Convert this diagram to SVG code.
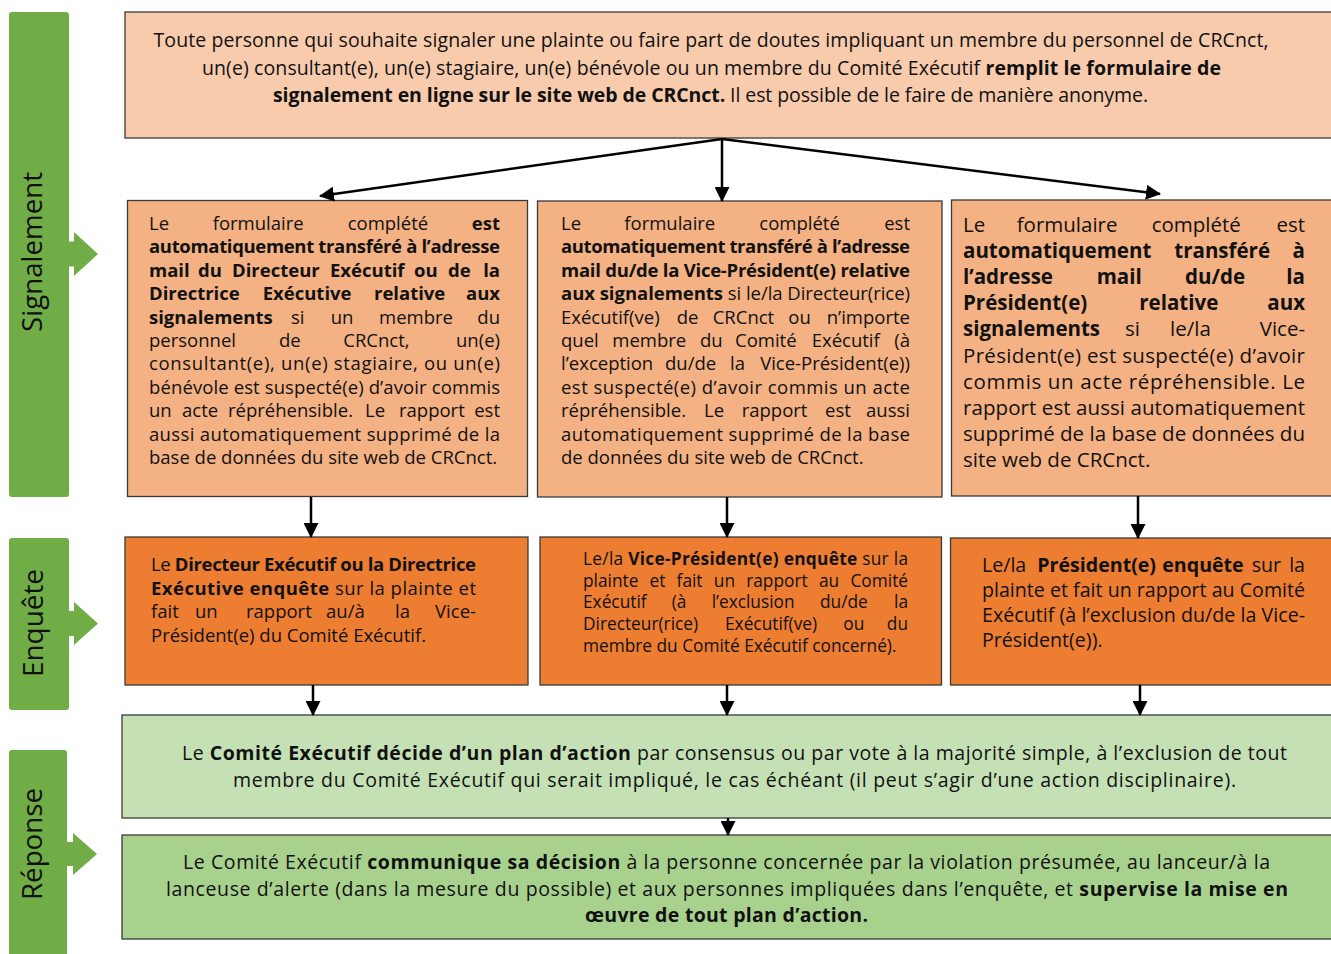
<svg xmlns="http://www.w3.org/2000/svg" width="1331" height="954" viewBox="0 0 1331 954">
<defs>
<style>
.t{font-family:"Open Sans","Liberation Sans",sans-serif;fill:#111;}
.b{font-weight:700;}
.f1{font-size:18.5px;}
.f3{font-size:20.5px;}
.f5{font-size:17.3px;}
.f6{font-size:19.6px;}
.fc{font-size:19.5px;}
.lab{font-family:"Open Sans","Liberation Sans",sans-serif;font-size:27.5px;fill:#111;}
.e{text-anchor:end;}
.m{text-anchor:middle;}
.box{stroke:#3a3a3a;stroke-width:1.3;}
.side{fill:#70AD47;}
.conn{stroke:#000;stroke-width:2.5;fill:none;marker-end:url(#ah);}
</style>
<marker id="ah" markerUnits="userSpaceOnUse" markerWidth="15" markerHeight="15" refX="14" refY="7.5" orient="auto" viewBox="0 0 15 15">
<path d="M0,0 L15,7.5 L0,15 z" fill="#000"/>
</marker>
</defs>
<rect width="1331" height="954" fill="#fff"/>

<g id="label-signalement">
<rect class="side" x="9" y="12" width="60" height="485" rx="3"/>
<polygon class="side" points="68,241.5 74,241.5 74,232 98,254 74,276 74,266.5 68,266.5"/>
<text class="lab m" transform="translate(42,252) rotate(-90)" textLength="160" lengthAdjust="spacingAndGlyphs">Signalement</text>
</g>
<g id="label-enquete">
<rect class="side" x="9" y="538" width="60" height="172" rx="3"/>
<polygon class="side" points="68,611 74,611 74,602 98,623.5 74,645 74,636 68,636"/>
<text class="lab m" transform="translate(43,623) rotate(-90)" textLength="108" lengthAdjust="spacingAndGlyphs">Enquête</text>
</g>
<g id="label-reponse">
<rect class="side" x="9" y="750" width="58" height="220" rx="3"/>
<polygon class="side" points="66,842 73,842 73,833 97,854 73,875 73,866 66,866"/>
<text class="lab m" transform="translate(42,844) rotate(-90)" textLength="112" lengthAdjust="spacingAndGlyphs">Réponse</text>
</g>

<g id="node-top">
<rect class="box" x="125" y="12" width="1215" height="126" fill="#F8CBAD"/>
<text class="t fc m" x="711" y="47" textLength="1115" lengthAdjust="spacing">Toute personne qui souhaite signaler une plainte ou faire part de doutes impliquant un membre du personnel de CRCnct,</text>
<text class="t fc m" x="711.5" y="74.5" textLength="1019" lengthAdjust="spacing">un(e) consultant(e), un(e) stagiaire, un(e) bénévole ou un membre du Comité Exécutif <tspan class="b">remplit le formulaire de</tspan></text>
<text class="t fc m" x="710.5" y="102" textLength="875" lengthAdjust="spacing"><tspan class="b">signalement en ligne sur le site web de CRCnct.</tspan> Il est possible de le faire de manière anonyme.</text>
</g>

<g id="node-signal-dg">
<rect class="box" x="127.5" y="200.5" width="400" height="296" fill="#F4B183"/>
<text class="t f1" y="230"><tspan x="149">Le</tspan><tspan x="212.7">formulaire</tspan><tspan x="347.7">complété</tspan></text>
<text class="t f1 b e" x="500" y="230">est</text>
<text class="t f1 b" x="149" y="253.4" textLength="351" lengthAdjust="spacing">automatiquement transféré à l’adresse</text>
<text class="t f1 b" y="276.8"><tspan x="149">mail</tspan><tspan x="198">du</tspan><tspan x="232">Directeur</tspan><tspan x="330">Exécutif</tspan><tspan x="414">ou</tspan><tspan x="448">de</tspan></text>
<text class="t f1 b e" x="500" y="276.8">la</text>
<text class="t f1 b" y="300.2"><tspan x="149">Directrice</tspan><tspan x="262.7">Exécutive</tspan><tspan x="374">relative</tspan></text>
<text class="t f1 b e" x="500" y="300.2">aux</text>
<text class="t f1" y="323.6"><tspan class="b" x="149">signalements</tspan><tspan x="291">si</tspan><tspan x="330.7">un</tspan><tspan x="379">membre</tspan></text>
<text class="t f1 e" x="500" y="323.6">du</text>
<text class="t f1" y="347"><tspan x="149">personnel</tspan><tspan x="279">de</tspan><tspan x="343.3">CRCnct,</tspan></text>
<text class="t f1 e" x="500" y="347">un(e)</text>
<text class="t f1" x="149" y="370.4" textLength="351" lengthAdjust="spacing">consultant(e), un(e) stagiaire, ou un(e)</text>
<text class="t f1" x="149" y="393.8" textLength="351" lengthAdjust="spacing">bénévole est suspecté(e) d’avoir commis</text>
<text class="t f1" y="417.2"><tspan x="149">un</tspan><tspan x="182">acte</tspan><tspan x="228">répréhensible.</tspan><tspan x="365">Le</tspan><tspan x="399">rapport</tspan></text>
<text class="t f1 e" x="500" y="417.2">est</text>
<text class="t f1" x="149" y="440.6" textLength="351" lengthAdjust="spacing">aussi automatiquement supprimé de la</text>
<text class="t f1" x="149" y="464">base de données du site web de CRCnct.</text>
</g>

<g id="node-signal-vp">
<rect class="box" x="537.5" y="201" width="404.5" height="296" fill="#F4B183"/>
<text class="t f1" y="230"><tspan x="561">Le</tspan><tspan x="624.3">formulaire</tspan><tspan x="759.3">complété</tspan></text>
<text class="t f1 e" x="910" y="230">est</text>
<text class="t f1 b" x="561" y="253.4" textLength="349" lengthAdjust="spacing">automatiquement transféré à l’adresse</text>
<text class="t f1 b" x="561" y="276.8" textLength="349" lengthAdjust="spacing">mail du/de la Vice-Président(e) relative</text>
<text class="t f1" x="561" y="300.2" textLength="349" lengthAdjust="spacing"><tspan class="b">aux signalements</tspan> si le/la Directeur(rice)</text>
<text class="t f1" y="323.6"><tspan x="561">Exécutif(ve)</tspan><tspan x="676.7">de</tspan><tspan x="712.7">CRCnct</tspan><tspan x="788.3">ou</tspan></text>
<text class="t f1 e" x="910" y="323.6">n’importe</text>
<text class="t f1" y="347"><tspan x="561">quel</tspan><tspan x="612.3">membre</tspan><tspan x="700">du</tspan><tspan x="735">Comité</tspan><tspan x="811.7">Exécutif</tspan></text>
<text class="t f1 e" x="910" y="347">(à</text>
<text class="t f1" y="370.4"><tspan x="561">l’exception</tspan><tspan x="665">du/de</tspan><tspan x="730">la</tspan></text>
<text class="t f1 e" x="910" y="370.4">Vice-Président(e))</text>
<text class="t f1" x="561" y="393.8" textLength="349" lengthAdjust="spacing">est suspecté(e) d’avoir commis un acte</text>
<text class="t f1" y="417.2"><tspan x="561">répréhensible.</tspan><tspan x="704">Le</tspan><tspan x="741.7">rapport</tspan><tspan x="825">est</tspan></text>
<text class="t f1 e" x="910" y="417.2">aussi</text>
<text class="t f1" x="561" y="440.6" textLength="349" lengthAdjust="spacing">automatiquement supprimé de la base</text>
<text class="t f1" x="561" y="464">de données du site web de CRCnct.</text>
</g>

<g id="node-signal-p">
<rect class="box" x="951.5" y="200" width="390" height="296" fill="#F4B183"/>
<text class="t f3" y="231.5"><tspan x="963">Le</tspan><tspan x="1016.7">formulaire</tspan><tspan x="1151.7">complété</tspan></text>
<text class="t f3 e" x="1305" y="231.5">est</text>
<text class="t f3 b" y="257.7"><tspan x="963">automatiquement</tspan><tspan x="1174.3">transféré</tspan></text>
<text class="t f3 b e" x="1305" y="257.7">à</text>
<text class="t f3 b" y="283.9"><tspan x="963">l’adresse</tspan><tspan x="1096.7">mail</tspan><tspan x="1185">du/de</tspan></text>
<text class="t f3 b e" x="1305" y="283.9">la</text>
<text class="t f3 b" y="310.1"><tspan x="963">Président(e)</tspan><tspan x="1139.3">relative</tspan></text>
<text class="t f3 b e" x="1305" y="310.1">aux</text>
<text class="t f3" y="336.3"><tspan class="b" x="963">signalements</tspan><tspan x="1125">si</tspan><tspan x="1170">le/la</tspan></text>
<text class="t f3 e" x="1305" y="336.3">Vice-</text>
<text class="t f3" x="963" y="362.5" textLength="342" lengthAdjust="spacing">Président(e) est suspecté(e) d’avoir</text>
<text class="t f3" x="963" y="388.7" textLength="342" lengthAdjust="spacing">commis un acte répréhensible. Le</text>
<text class="t f3" x="963" y="414.9" textLength="342" lengthAdjust="spacing">rapport est aussi automatiquement</text>
<text class="t f3" x="963" y="441.1" textLength="342" lengthAdjust="spacing">supprimé de la base de données du</text>
<text class="t f3" x="963" y="467.3">site web de CRCnct.</text>
</g>

<g id="node-enq-dg">
<rect class="box" x="125" y="537" width="403" height="148" fill="#ED7D31"/>
<text class="t f1" x="151" y="571" textLength="325" lengthAdjust="spacing">Le <tspan class="b">Directeur Exécutif ou la Directrice</tspan></text>
<text class="t f1" x="151" y="594.5" textLength="325" lengthAdjust="spacing"><tspan class="b">Exécutive enquête</tspan> sur la plainte et</text>
<text class="t f1" y="618"><tspan x="151">fait</tspan><tspan x="195">un</tspan><tspan x="246">rapport</tspan><tspan x="326">au/à</tspan><tspan x="395">la</tspan></text>
<text class="t f1 e" x="476" y="618">Vice-</text>
<text class="t f1" x="151" y="641.5">Président(e) du Comité Exécutif.</text>
</g>

<g id="node-enq-vp">
<rect class="box" x="540" y="537" width="401.5" height="148" fill="#ED7D31"/>
<text class="t f5" x="583" y="565" textLength="325" lengthAdjust="spacing">Le/la <tspan class="b">Vice-Président(e) enquête</tspan> sur la</text>
<text class="t f5" y="586.7"><tspan x="583">plainte</tspan><tspan x="649.6">et</tspan><tspan x="676.6">fait</tspan><tspan x="713.8">un</tspan><tspan x="746.2">rapport</tspan><tspan x="818.9">au</tspan></text>
<text class="t f5 e" x="908" y="586.7">Comité</text>
<text class="t f5" y="608.4"><tspan x="583">Exécutif</tspan><tspan x="671.7">(à</tspan><tspan x="711.7">l’exclusion</tspan><tspan x="820">du/de</tspan></text>
<text class="t f5 e" x="908" y="608.4">la</text>
<text class="t f5" y="630.1"><tspan x="583">Directeur(rice)</tspan><tspan x="725">Exécutif(ve)</tspan><tspan x="843.3">ou</tspan></text>
<text class="t f5 e" x="908" y="630.1">du</text>
<text class="t f5" x="583" y="651.8">membre du Comité Exécutif concerné).</text>
</g>

<g id="node-enq-p">
<rect class="box" x="950.5" y="538" width="390" height="147" fill="#ED7D31"/>
<text class="t f6" y="571.7"><tspan x="982">Le/la</tspan><tspan class="b" x="1037.3">Président(e)</tspan><tspan class="b" x="1162.3">enquête</tspan><tspan x="1251.7">sur</tspan></text>
<text class="t f6 e" x="1305" y="571.7">la</text>
<text class="t f6" x="982" y="596.7" textLength="323" lengthAdjust="spacing">plainte et fait un rapport au Comité</text>
<text class="t f6" x="982" y="621.7" textLength="323" lengthAdjust="spacing">Exécutif (à l’exclusion du/de la Vice-</text>
<text class="t f6" x="982" y="646.7">Président(e)).</text>
</g>

<g id="node-decision">
<rect class="box" x="122" y="715" width="1220" height="103" fill="#C5E0B4"/>
<text class="t fc m" x="734.5" y="760" textLength="1105" lengthAdjust="spacing">Le <tspan class="b">Comité Exécutif décide d’un plan d’action</tspan> par consensus ou par vote à la majorité simple, à l’exclusion de tout</text>
<text class="t fc m" x="734.5" y="787" textLength="1003" lengthAdjust="spacing">membre du Comité Exécutif qui serait impliqué, le cas échéant (il peut s’agir d’une action disciplinaire).</text>
</g>

<g id="node-communication">
<rect class="box" x="122" y="835" width="1220" height="104" fill="#A9D18E"/>
<text class="t fc m" x="726.5" y="869" textLength="1087" lengthAdjust="spacing">Le Comité Exécutif <tspan class="b">communique sa décision</tspan> à la personne concernée par la violation présumée, au lanceur/à la</text>
<text class="t fc m" x="727" y="896" textLength="1122" lengthAdjust="spacing">lanceuse d’alerte (dans la mesure du possible) et aux personnes impliquées dans l’enquête, et <tspan class="b">supervise la mise en</tspan></text>
<text class="t fc m b" x="726.5" y="922" textLength="283" lengthAdjust="spacing">œuvre de tout plan d’action.</text>
</g>

<g id="connectors">
<line class="conn" x1="722" y1="139" x2="320" y2="196"/>
<line class="conn" x1="722" y1="139" x2="722" y2="201"/>
<line class="conn" x1="722" y1="139" x2="1160" y2="194"/>
<line class="conn" x1="311" y1="497" x2="311" y2="537"/>
<line class="conn" x1="727" y1="497" x2="727" y2="537"/>
<line class="conn" x1="1138" y1="496" x2="1138" y2="538"/>
<line class="conn" x1="313" y1="685" x2="313" y2="715"/>
<line class="conn" x1="727" y1="685" x2="727" y2="715"/>
<line class="conn" x1="1140" y1="685" x2="1140" y2="715"/>
<line class="conn" x1="728" y1="818" x2="728" y2="835"/>
</g>
</svg>
